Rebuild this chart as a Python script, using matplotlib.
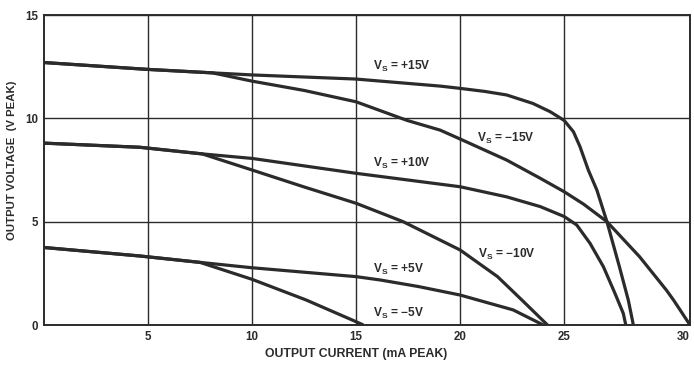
import numpy as np
import matplotlib
matplotlib.use("Agg")
import matplotlib.pyplot as plt

# curve readings: output current (mA peak) vs output voltage (V peak)
pos15_x = [0, 4.95, 8.1, 10, 15, 19.04, 20, 21.2, 22.24, 23.5, 24.33, 25, 25.37, 25.63, 25.96, 26.3, 26.7, 27.2, 27.55, 27.75]
pos15_y = [12.7, 12.37, 12.2, 12.1, 11.9, 11.56, 11.45, 11.3, 11.13, 10.72, 10.32, 9.9, 9.35, 8.63, 7.5, 6.53, 5.0, 2.8, 1.2, 0]

neg15_x = [0, 4.95, 8.1, 10, 12.5, 15, 17.45, 19.04, 20, 22.24, 23.85, 25, 25.77, 26.7, 28.0, 29.06, 29.35, 30]
neg15_y = [12.7, 12.37, 12.2, 11.8, 11.35, 10.8, 9.9, 9.43, 9.0, 7.98, 7.1, 6.45, 5.85, 5.0, 3.3, 1.69, 1.2, 0]

pos10_x = [0, 4.6, 7.6, 10, 15, 20, 22.24, 23.85, 25, 25.5, 26.03, 26.56, 27.02, 27.35, 27.45]
pos10_y = [8.8, 8.6, 8.28, 8.06, 7.34, 6.69, 6.2, 5.73, 5.25, 4.84, 3.95, 2.82, 1.53, 0.56, 0]

neg10_x = [0, 4.6, 7.6, 10, 12.47, 15, 17.26, 20, 21.8, 23.05, 24.2]
neg10_y = [8.8, 8.6, 8.28, 7.5, 6.69, 5.89, 5.0, 3.63, 2.34, 1.13, 0]

pos5_x = [0, 4.6, 7.5, 10, 15, 16.15, 18.0, 20, 22.55, 24.0]
pos5_y = [3.75, 3.34, 3.03, 2.77, 2.34, 2.18, 1.86, 1.45, 0.73, 0]

neg5_x = [0, 4.6, 7.5, 10, 12.6, 15, 15.35]
neg5_y = [3.75, 3.34, 3.03, 2.21, 1.21, 0.16, 0]

curve_labels = ["+15V", "\u221215V", "+10V", "\u221210V", "+5V", "\u22125V"]
label_x = [15.8, 20.8, 15.8, 20.85, 15.8, 15.8]
label_y = [12.5, 9.05, 7.8, 3.43, 2.7, 0.55]

x_ticks = [5, 10, 15, 20, 25, 30]
y_ticks = [0, 5, 10, 15]

plt.rcParams['font.family'] = ['Liberation Sans', 'DejaVu Sans']
plt.rcParams['font.weight'] = 'bold'
plt.rcParams['axes.labelweight'] = 'bold'
plt.rcParams['mathtext.fontset'] = 'custom'
plt.rcParams['mathtext.rm'] = 'Liberation Sans:bold'
plt.rcParams['mathtext.default'] = 'regular'

ink = "#2b2b2b"


# the scanned grid has a wider last column (25..30)
def fwd(x):
    x = np.asarray(x, dtype=float)
    return np.where(x <= 25, x, 25 + (x - 25) * 1.21)


def inv(x):
    x = np.asarray(x, dtype=float)
    return np.where(x <= 25, x, 25 + (x - 25) / 1.21)


fig, ax = plt.subplots(figsize=(6.94, 3.65), dpi=100)
fig.subplots_adjust(left=44 / 694, right=690 / 694, top=1 - 15 / 365, bottom=1 - 325 / 365)
ax.set_xscale('function', functions=(fwd, inv))
ax.set_xlim(0, 30)
ax.set_ylim(0, 15)

for xs, ys in [(pos15_x, pos15_y), (neg15_x, neg15_y), (pos10_x, pos10_y),
               (neg10_x, neg10_y), (pos5_x, pos5_y), (neg5_x, neg5_y)]:
    ax.plot(xs, ys, color=ink, lw=2.3, solid_joinstyle='round', solid_capstyle='butt', zorder=3)

for lab, lx, ly in zip(curve_labels, label_x, label_y):
    ax.text(lx, ly, "V$_S$ = " + lab, fontsize=8.6, color=ink, ha='left', va='center', zorder=4)

ax.set_xticks(x_ticks)
ax.set_xticklabels([str(t) for t in x_ticks])
ax.set_yticks(y_ticks)
ax.set_yticklabels([str(t) for t in y_ticks])
ax.minorticks_off()
ax.tick_params(length=0, labelsize=8.3, labelcolor=ink, pad=4)
ax.get_xticklabels()[-1].set_ha('right')
ax.grid(True, color=ink, lw=1.0)
ax.set_axisbelow(True)
for s in ax.spines.values():
    s.set_color(ink)
    s.set_linewidth(1.4)

ax.set_xlabel("OUTPUT CURRENT (mA PEAK)", fontsize=8.8, color=ink)
ax.xaxis.set_label_coords(0.483, -0.094)
ax.xaxis.label.set_va('center')
ax.set_ylabel("OUTPUT VOLTAGE  (V PEAK)", fontsize=8.2, color=ink)
ax.yaxis.set_label_coords(-0.05, 0.53)
ax.yaxis.label.set_va('center')

fig.savefig("out.png", dpi=100)
